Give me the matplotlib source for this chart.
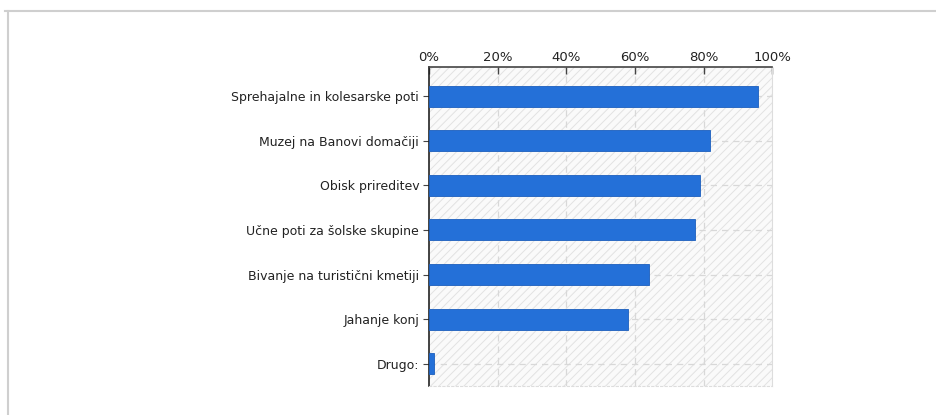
import matplotlib.pyplot as plt
from matplotlib.lines import Line2D
from matplotlib.patches import Rectangle

# Survey answers (share of respondents, %)
labels = ['Sprehajalne in kolesarske poti', 'Muzej na Banovi domačiji', 'Obisk prireditev',
          'Učne poti za šolske skupine', 'Bivanje na turistični kmetiji', 'Jahanje konj', 'Drugo:']
shares = [95.7, 82.0, 78.9, 77.5, 64.0, 57.9, 1.5]
ticks = [0, 20, 40, 60, 80, 100]
tick_labels = ['0%', '20%', '40%', '60%', '80%', '100%']

plt.rcParams['font.family'] = ['DejaVu Sans']
plt.rcParams['hatch.linewidth'] = 0.7
plt.rcParams['hatch.color'] = '#e2e2e2'

fig = plt.figure(figsize=(9.36, 4.15), dpi=100)
fig.patch.set_facecolor('white')
ax = fig.add_axes([0.4583, 0.0699, 0.3668, 0.7687])

# Hatched plot background
ax.set_facecolor('#fafafa')
ax.add_patch(Rectangle((0, 0), 1, 1, transform=ax.transAxes, facecolor='none',
                       hatch='////', edgecolor='#e2e2e2', linewidth=0, zorder=0))

pos = range(len(labels))
ax.barh(pos, shares, height=0.47, color='#2470d8', edgecolor='#1c5fbd', linewidth=0.6, zorder=3)

# Dashed grid
for t in ticks[1:-1]:
    ax.axvline(t, color='#d8d8d8', linestyle=(0, (5, 4)), linewidth=0.9, zorder=1)
for p in pos:
    ax.axhline(p, color='#d8d8d8', linestyle=(0, (5, 4)), linewidth=0.9, zorder=1)

ax.set_xlim(0, 100)
ax.set_ylim(6.5, -0.655)
ax.xaxis.tick_top()
ax.set_xticks(ticks)
ax.set_xticklabels(tick_labels, fontsize=9.5, color='#222222')
ax.tick_params(axis='x', direction='in', length=5, width=1, color='#444444', pad=2)
ax.set_yticks(list(pos))
ax.set_yticklabels(labels, fontsize=9, color='#222222')
ax.tick_params(axis='y', direction='out', length=4, width=0.8, color='#444444', pad=3)

ax.spines['left'].set_color('#222222')
ax.spines['left'].set_linewidth(1.2)
ax.spines['top'].set_color('#444444')
ax.spines['top'].set_linewidth(1.2)
ax.spines['right'].set_color('#dddddd')
ax.spines['bottom'].set_color('#dddddd')
ax.spines['bottom'].set_linestyle((0, (2, 2)))

# Outer frame lines
fig.add_artist(Line2D([5 / 936, 1], [1 - 11.5 / 415] * 2, color='#cfcfcf', linewidth=1.5))
fig.add_artist(Line2D([8 / 936] * 2, [0, 1 - 11.5 / 415], color='#cfcfcf', linewidth=1.5))

fig.savefig('out.png', dpi=100)
